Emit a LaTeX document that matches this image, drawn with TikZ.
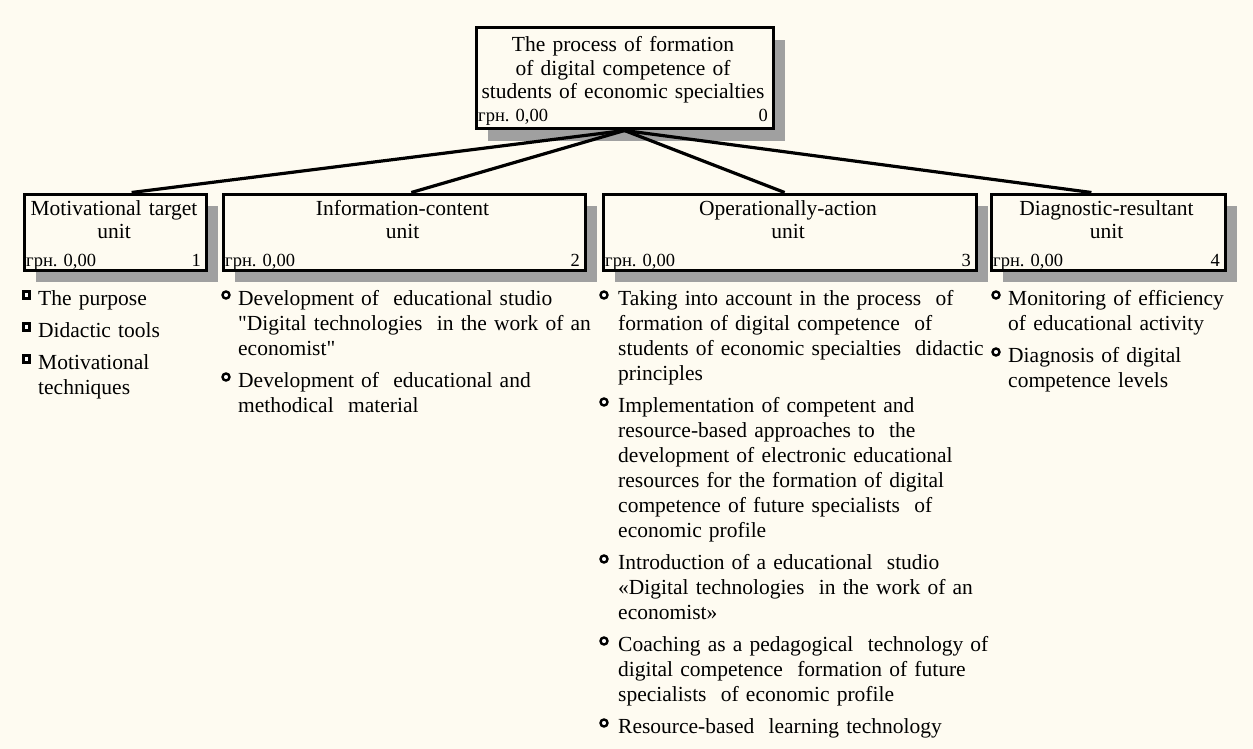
\documentclass[tikz,border=0pt]{standalone}
\usepackage{fontspec}
\setmainfont[Ligatures=TeXOff]{Liberation Serif}
\usetikzlibrary{shadows,calc}
\definecolor{cream}{RGB}{254,251,241}
\definecolor{shadowc}{RGB}{160,160,160}
\tikzset{
  box/.style={draw=black, line width=3pt, fill=cream, anchor=north west, inner sep=0pt,
    drop shadow={shadow xshift=12pt, shadow yshift=-12pt, fill=shadowc, opacity=1}},
  conn/.style={draw=black, line width=3.2pt},
  title/.style={anchor=base, align=center, text width=360pt, inner sep=0pt,
    font=\fontsize{21.5}{23.3}\selectfont},
  cost/.style={anchor=base west, inner sep=0pt, font=\fontsize{18.5}{20}\selectfont},
  num/.style={anchor=base east, inner sep=0pt, font=\fontsize{18.5}{20}\selectfont},
  item/.style={anchor=base west, align=left, text width=400pt, inner sep=0pt,
    font=\fontsize{21.5}{25}\selectfont},
  sqbul/.style={draw=black, line width=2.6pt, fill=white, minimum size=6.5pt, inner sep=0pt},
  rdbul/.style={draw=black, line width=2.4pt, fill=white, circle, minimum size=7pt, inner sep=0pt}
}
\begin{document}
\begin{tikzpicture}[x=1pt,y=-1pt]
\useasboundingbox (0,0) rectangle (1253,749);
\fill[cream] (0,0) rectangle (1253,749);

% top box
\node[box, minimum width=297pt, minimum height=101pt] (top) at (474.5,26.5) {};
\node[title] (toptxt) at (623,52) {The process of formation\\of digital competence of\\students of economic specialties};
\node[cost] (topcost) at (478,121.5) {грн. 0,00};
\node[num] (topnum) at (768,121.5) {0};

% level-2 boxes
\node[box, minimum width=182pt, minimum height=76pt] (b1) at (22.5,192.5) {};
\node[box, minimum width=362pt, minimum height=76pt] (b2) at (221.5,192.5) {};
\node[box, minimum width=373pt, minimum height=76pt] (b3) at (601.5,192.5) {};
\node[box, minimum width=234pt, minimum height=76pt] (b4) at (989.5,192.5) {};

% connectors
\draw[conn] (top.south) -- ($(b1.north west)!0.59!(b1.north east)$);
\draw[conn] (top.south) -- ($(b2.north west)!0.52!(b2.north east)$);
\draw[conn] (top.south) -- ($(b3.north west)!0.487!(b3.north east)$);
\draw[conn] (top.south) -- ($(b4.north west)!0.43!(b4.north east)$);

% box texts
\node[title] (t1) at (114,215) {Motivational target\\unit};
\node[title] (t2) at (402.5,215) {Information-content\\unit};
\node[title] (t3) at (788,215) {Operationally-action\\unit};
\node[title] (t4) at (1106.5,215) {Diagnostic-resultant\\unit};

\node[cost] (c1) at (26,266) {грн. 0,00};
\node[num] (n1) at (201,266) {1};
\node[cost] (c2) at (225,266) {грн. 0,00};
\node[num] (n2) at (580,266) {2};
\node[cost] (c3) at (605,266) {грн. 0,00};
\node[num] (n3) at (971,266) {3};
\node[cost] (c4) at (993,266) {грн. 0,00};
\node[num] (n4) at (1220,266) {4};

% list of unit 1
\node[sqbul] (q11) at (26.5,295) {};
\node[item] (i11) at (38,305) {The purpose};
\node[sqbul] (q12) at (26.5,327) {};
\node[item] (i12) at (38,337) {Didactic tools};
\node[sqbul] (q13) at (26.5,359) {};
\node[item] (i13) at (38,369) {Motivational\\techniques};

% list of unit 2
\node[rdbul] (q21) at (226,295) {};
\node[item] (i21) at (238,305) {Development of~ educational studio\\"Digital technologies~ in the work of an\\economist"};
\node[rdbul] (q22) at (226,377) {};
\node[item] (i22) at (238,387) {Development of~ educational and\\methodical~ material};

% list of unit 3
\node[rdbul] (q31) at (604,295) {};
\node[item] (i31) at (618,305) {Taking into account in the process~ of\\formation of digital competence~ of\\students of economic specialties~ didactic\\principles};
\node[rdbul] (q32) at (604,402) {};
\node[item] (i32) at (618,412) {Implementation of competent and\\resource-based approaches to~ the\\development of electronic educational\\resources for the formation of digital\\competence of future specialists~ of\\economic profile};
\node[rdbul] (q33) at (604,559) {};
\node[item] (i33) at (618,569) {Introduction of a educational~ studio\\«Digital technologies~ in the work of an\\economist»};
\node[rdbul] (q34) at (604,641) {};
\node[item] (i34) at (618,651) {Coaching as a pedagogical~ technology of\\digital competence~ formation of future\\specialists~ of economic profile};
\node[rdbul] (q35) at (604,723) {};
\node[item] (i35) at (618,733) {Resource-based~ learning technology};

% list of unit 4
\node[rdbul] (q41) at (996,295) {};
\node[item] (i41) at (1008,305) {Monitoring of efficiency\\of educational activity};
\node[rdbul] (q42) at (996,352) {};
\node[item] (i42) at (1008,362) {Diagnosis of digital\\competence levels};
\end{tikzpicture}
\end{document}
